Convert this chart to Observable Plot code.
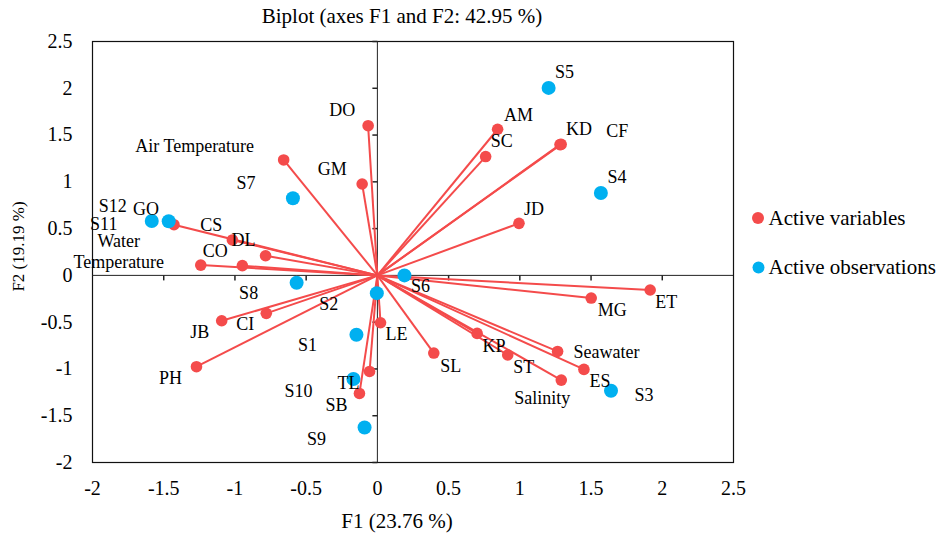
<!DOCTYPE html>
<html>
<head>
<meta charset="utf-8">
<script src="https://cdn.jsdelivr.net/npm/d3@7"></script>
<script src="https://cdn.jsdelivr.net/npm/@observablehq/plot@0.6"></script>
<style>
  html, body { margin: 0; padding: 0; background: white; }
</style>
</head>
<body>
<div id="chart"></div>
<script>
// ---- data ----
const varNames = ["DO","Air Temperature","GM","GO","CS","DL","CO","Water\nTemperature","CI","JB","PH","LE","TL","SB","AM","SC","KD","CF","JD","ET","MG","KP","SL","ST","Seawater","ES","Salinity"];
const varF1 = [-0.065,-0.658,-0.107,-1.428,-1.018,-0.785,-0.948,-1.24,-0.78,-1.093,-1.27,0.022,-0.055,-0.126,0.844,0.760,1.282,1.29,0.994,1.915,1.501,0.70,0.396,0.915,1.265,1.45,1.291];
const varF2 = [1.60,1.234,0.977,0.542,0.379,0.21,0.104,0.11,-0.406,-0.485,-0.976,-0.506,-1.027,-1.262,1.562,1.27,1.398,1.40,0.556,-0.156,-0.242,-0.62,-0.83,-0.851,-0.813,-1.005,-1.119];

const obsNames = ["S1","S2","S3","S4","S5","S6","S7","S8","S9","S10","S11","S12"];
const obsF1 = [-0.147,-0.004,1.64,1.569,1.202,0.19,-0.593,-0.567,-0.09,-0.168,-1.584,-1.465];
const obsF2 = [-0.634,-0.19,-1.233,0.881,2.004,0.0,0.824,-0.078,-1.626,-1.108,0.582,0.578];

const xTicks = [-2,-1.5,-1,-0.5,0,0.5,1,1.5,2,2.5];
const yTicks = [-2,-1.5,-1,-0.5,0,0.5,1,1.5,2,2.5];

const titleText = "Biplot (axes F1 and F2: 42.95 %)";
const xLabel = "F1 (23.76 %)";
const yLabel = "F2 (19.19 %)";
const legendLabels = ["Active variables", "Active observations"];

// ---- label placement offsets (px) ----
const varDx = [-26,-89,-30,-28,-21,-22,-27,-82,-21,-22,-26,16,-21,-23,21,16,19,56,15,16,21,17,17,16,49,16,-19];
const varDy = [-16,-15,-16,-16,-16,-16,-15,-14,10,11,11,11,11,11,-15,-16,-16,-14,-15,11,11,12,12,11,0,11,17];
const obsDx = [-49,-48,33,16,16,16,-47,-48,-48,-55,-48,-56];
const obsDy = [11,11,4,-16,-16,11,-15,11,12,12,3,-15];

const RED = "#f44b4b";
const BLUE = "#00b0f0";
const FONT = "Liberation Serif, Times New Roman, serif";

const vars = varNames.map((name, i) => ({name, f1: varF1[i], f2: varF2[i]}));
const obs = obsNames.map((name, i) => ({name, f1: obsF1[i], f2: obsF2[i]}));

const tickDown = {draw(ctx) { ctx.moveTo(0, 0); ctx.lineTo(0, 5); }};
const tickLeft = {draw(ctx) { ctx.moveTo(0, 0); ctx.lineTo(-5, 0); }};

const fmt = d => String(d);
const centered = {textAnchor: "middle", lineAnchor: "middle", fill: "black"};

const marks = [
  Plot.frame({stroke: "#111", strokeWidth: 1.2}),
  Plot.ruleY([0], {stroke: "#222", strokeWidth: 1}),
  Plot.ruleX([0], {stroke: "#222", strokeWidth: 1}),
  Plot.dot(xTicks.filter(d => d !== 0 && d !== -2 && d !== 2.5), {x: d => d, y: 0, symbol: tickDown, r: 3, stroke: "#222", fill: "none"}),
  Plot.dot(yTicks.filter(d => d !== 0), {x: 0, y: d => d, symbol: tickLeft, r: 3, stroke: "#222", fill: "none"}),
  Plot.axisX(xTicks, {anchor: "bottom", tickSize: 0, tickPadding: 18, fontSize: 20, tickFormat: fmt, label: null}),
  Plot.axisY(yTicks, {anchor: "left", tickSize: 0, tickPadding: 20, fontSize: 20, tickFormat: fmt, label: null}),
  Plot.link(vars, {x1: () => 0, y1: () => 0, x2: "f1", y2: "f2", stroke: RED, strokeWidth: 2}),
  Plot.dot(vars, {x: "f1", y: "f2", r: 5.8, fill: RED}),
  Plot.dot(obs, {x: "f1", y: "f2", r: 7, fill: BLUE}),
  ...vars.map((v, i) => Plot.text([v], {x: "f1", y: "f2", text: "name", dx: varDx[i], dy: varDy[i], fontSize: 18, lineHeight: 1.15, fill: "black"})),
  ...obs.map((v, i) => Plot.text([v], {x: "f1", y: "f2", text: "name", dx: obsDx[i], dy: obsDy[i], fontSize: 18, fill: "black"})),
  // title & axis labels
  Plot.text([titleText], {frameAnchor: "top", text: d => d, dx: -11, dy: -25, fontSize: 21, ...centered}),
  Plot.text([xLabel], {frameAnchor: "bottom", text: d => d, dx: -16, dy: 59, fontSize: 21, ...centered}),
  Plot.text([yLabel], {frameAnchor: "left", text: d => d, dx: -74, dy: -5.5, rotate: -90, fontSize: 17, ...centered}),
  // legend
  Plot.dot([0], {frameAnchor: "right", dx: 24.5, dy: -34, r: 6, fill: RED}),
  Plot.dot([0], {frameAnchor: "right", dx: 25, dy: 15.5, r: 6, fill: BLUE}),
  Plot.text([legendLabels[0]], {frameAnchor: "right", text: d => d, textAnchor: "start", lineAnchor: "middle", dx: 35, dy: -34, fontSize: 21, fill: "black"}),
  Plot.text([legendLabels[1]], {frameAnchor: "right", text: d => d, textAnchor: "start", lineAnchor: "middle", dx: 35, dy: 15.5, fontSize: 21, fill: "black"})
];

const chart = Plot.plot({
  width: 941,
  height: 533,
  marginLeft: 92,
  marginRight: 208,
  marginTop: 41,
  marginBottom: 71,
  x: {domain: [-2, 2.5]},
  y: {domain: [-2, 2.5]},
  style: {fontFamily: FONT, fontSize: "18px", background: "white", color: "black", overflow: "visible"},
  marks
});
document.getElementById("chart").appendChild(chart);
</script>
</body>
</html>
